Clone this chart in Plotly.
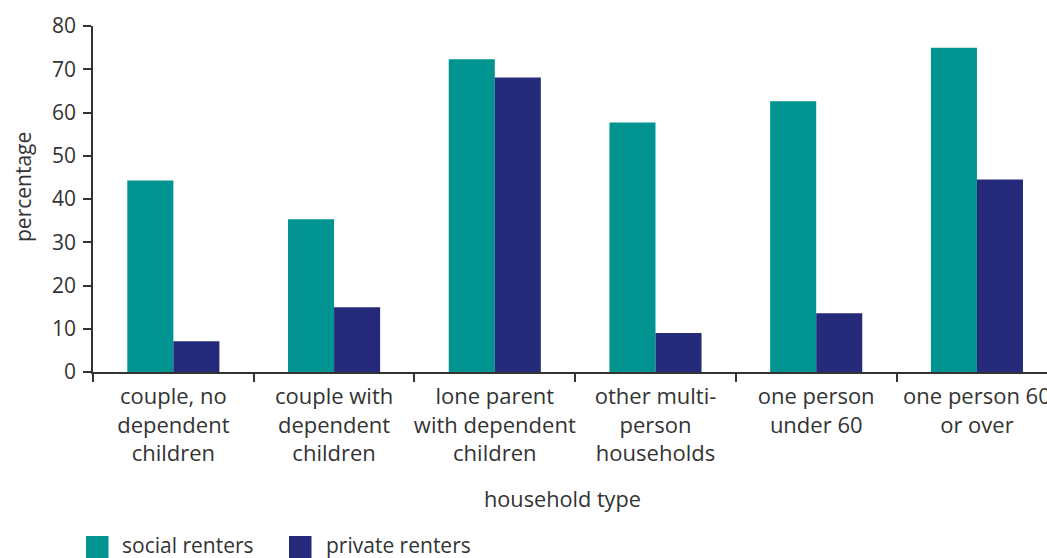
import plotly.graph_objects as go

# Share of households in each group, by tenure (%)
household_types = [
    "couple, no<br>dependent<br>children",
    "couple with<br>dependent<br>children",
    "lone parent<br>with dependent<br>children",
    "other multi-<br>person<br>households",
    "one person<br>under 60",
    "one person 60<br>or over",
]
social_renters = [44.3, 35.3, 72.3, 57.7, 62.6, 75.0]
private_renters = [7.1, 15.0, 68.1, 9.0, 13.6, 44.5]

series_names = ["social renters", "private renters"]
series_colors = ["#009390", "#262A7A"]

W, H = 1047, 558
ML, MR, MT, MB = 93, 0, 26, 186
PW, PH = W - ML - MR, H - MT - MB
FONT = "Open Sans, Lato, sans-serif"
TEXT = "#333333"


def px_x(x):
    return (x - ML) / PW


def px_y(y):
    return (H - MB - y) / PH


fig = go.Figure()
for name, vals, col in zip(series_names, [social_renters, private_renters], series_colors):
    fig.add_trace(go.Bar(
        x=household_types, y=vals, name=name,
        marker=dict(color=col, line=dict(width=0)),
        showlegend=False,
    ))

fig.update_layout(
    width=W, height=H,
    margin=dict(l=ML, r=MR, t=MT, b=MB, pad=0, autoexpand=False),
    paper_bgcolor="white", plot_bgcolor="white",
    barmode="group", bargap=0.427, bargroupgap=0,
    font=dict(family=FONT, size=21, color=TEXT),
    xaxis=dict(
        type="category",
        range=[-0.5, 5.436],
        tickson="boundaries",
        ticks="outside", ticklen=8, tickwidth=1.5, tickcolor=TEXT,
        showline=True, linecolor=TEXT, linewidth=1.5,
        showgrid=False, zeroline=False,
        tickangle=0, automargin=False,
        tickfont=dict(size=22, color=TEXT),
        ticklabeloverflow="allow",
        ticklabelstandoff=4,
    ),
    yaxis=dict(
        range=[0, 80], dtick=10,
        ticks="outside", ticklen=8, tickwidth=1.5, tickcolor=TEXT,
        showline=True, linecolor=TEXT, linewidth=1.5,
        showgrid=False, zeroline=False, automargin=False,
        tickfont=dict(size=21, color=TEXT),
        ticklabelstandoff=3,
    ),
)

# axis titles
fig.add_annotation(text="household type", x=px_x(562), y=px_y(499),
                   xref="paper", yref="paper", showarrow=False,
                   xanchor="center", yanchor="middle",
                   font=dict(size=21.7, color=TEXT))
fig.add_annotation(text="percentage", x=px_x(23), y=px_y(187),
                   xref="paper", yref="paper", showarrow=False, textangle=-90,
                   xanchor="center", yanchor="middle",
                   font=dict(size=21, color=TEXT))

# legend drawn beneath the chart with large square swatches
legend_pos = [(86, 121), (289, 325)]
for (sx, tx), name, col in zip(legend_pos, series_names, series_colors):
    fig.add_shape(type="rect", xref="paper", yref="paper",
                  x0=px_x(sx), x1=px_x(sx + 22.5), y0=px_y(558), y1=px_y(536),
                  fillcolor=col, line=dict(width=0))
    fig.add_annotation(text=name, x=px_x(tx), y=px_y(558), yshift=-2,
                       xref="paper", yref="paper", showarrow=False,
                       xanchor="left", yanchor="bottom", borderpad=0,
                       font=dict(size=21, color=TEXT))

fig.write_html("out.html")
